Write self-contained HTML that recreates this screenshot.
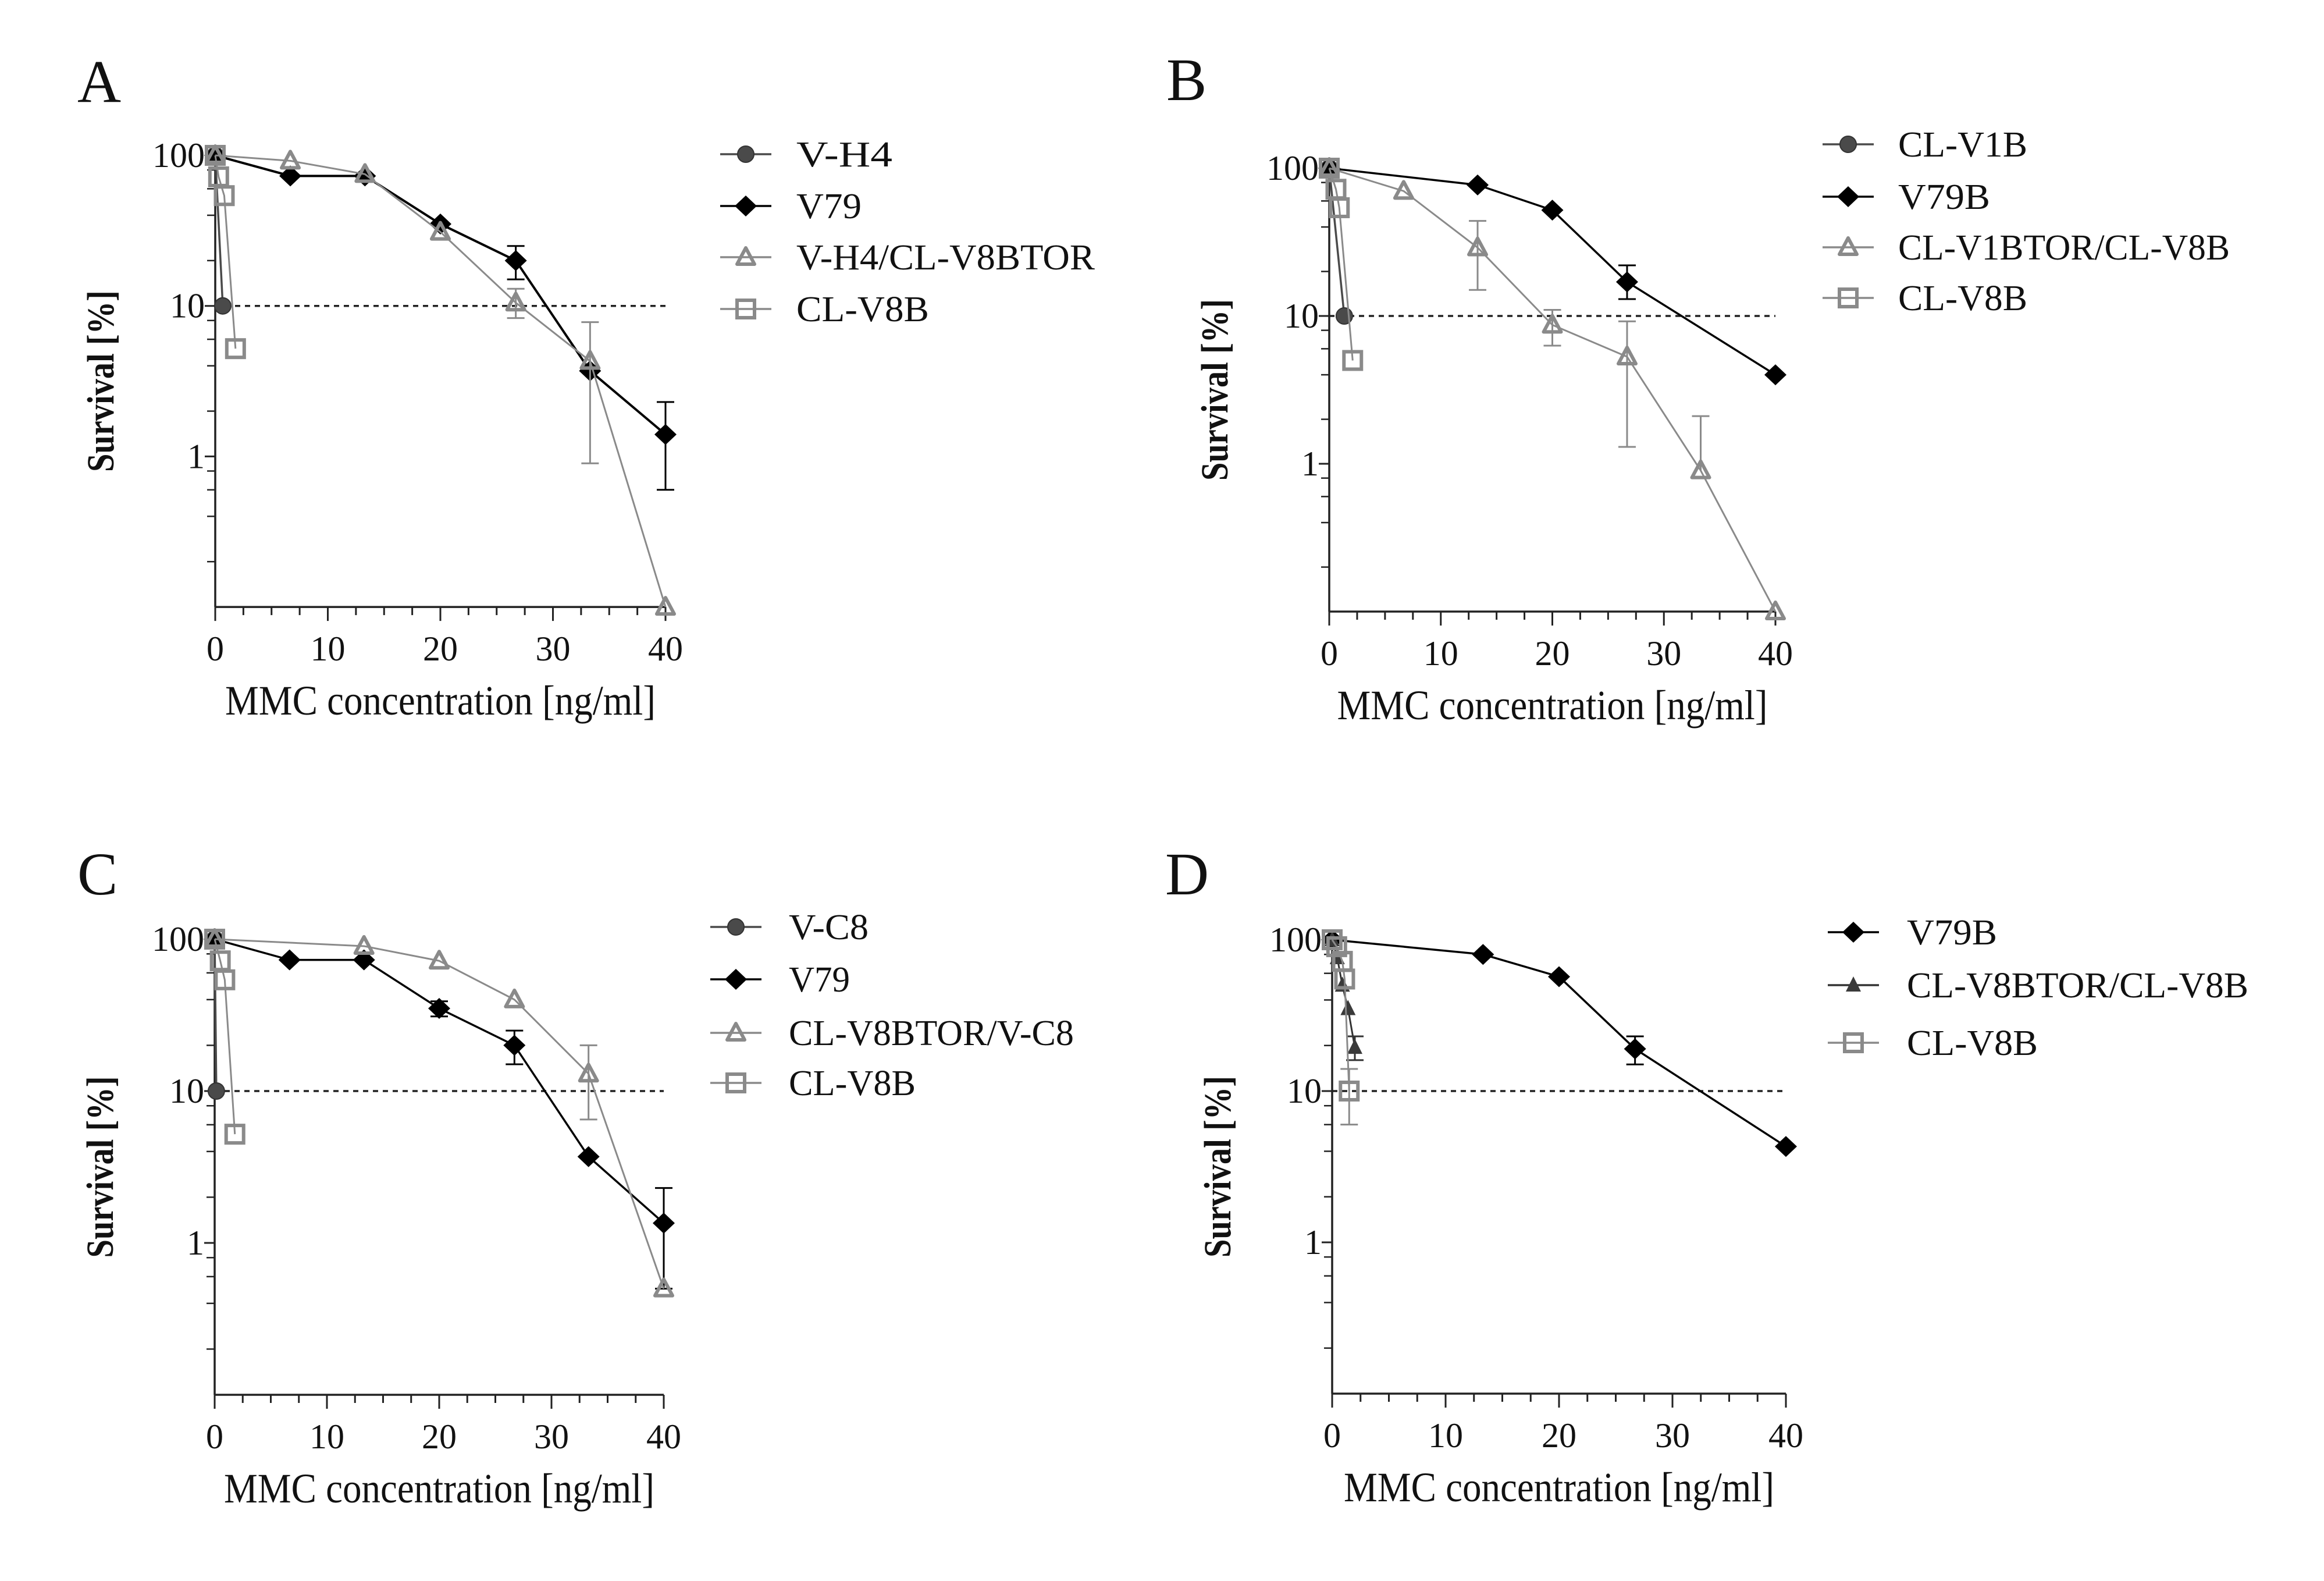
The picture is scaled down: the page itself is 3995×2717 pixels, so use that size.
<!DOCTYPE html>
<html><head><meta charset="utf-8">
<style>
html,body{margin:0;padding:0;background:#fff;}
svg{display:block;}
text{font-family:"Liberation Serif",serif;fill:#111;}
</style></head>
<body>
<svg id="fig" width="3995" height="2717" viewBox="0 0 3995 2717" xmlns="http://www.w3.org/2000/svg">
<rect width="3995" height="2717" fill="#fff"/>
</svg>
<script>
// ---------- Panel A data ----------
const aHexX = [0, 0.67];
const aHexY = [100, 10];
const aV79X = [0, 6.67, 13.3, 20, 26.7, 33.3, 40];
const aV79Y = [100, 73, 73, 35, 20, 3.7, 1.4];
const aV79Lo = [null, null, null, null, 15, null, 0.6];
const aV79Hi = [null, null, null, null, 25, null, 2.3];
const aTriX = [0, 6.67, 13.3, 20, 26.7, 33.3, 40];
const aTriY = [100, 92, 75, 31, 10.5, 4.3, 0.1];
const aTriLo = [null, null, null, null, 8.3, 0.9, null];
const aTriHi = [null, null, null, null, 13, 7.8, null];
const aSqX = [0, 0.3, 0.8, 1.8];
const aSqY = [100, 72, 54, 5.2];
// ---------- Panel B data ----------
const bHexX = [0, 1.35];
const bHexY = [100, 10];
const bV79X = [0, 13.3, 20, 26.7, 40];
const bV79Y = [100, 77, 52, 17, 4];
const bV79Lo = [null, null, null, 13, null];
const bV79Hi = [null, null, null, 22, null];
const bTriX = [0, 6.67, 13.3, 20, 26.7, 33.3, 40];
const bTriY = [100, 70, 29, 8.7, 5.3, 0.9, 0.1];
const bTriLo = [null, null, 15, 6.3, 1.3, null, null];
const bTriHi = [null, null, 44, 11, 9.2, 2.1, null];
const bSqX = [0, 0.6, 0.9, 2.1];
const bSqY = [100, 72, 54, 5];
// ---------- Panel C data ----------
const cHexX = [0, 0.15];
const cHexY = [100, 10];
const cV79X = [0, 6.67, 13.3, 20, 26.7, 33.3, 40];
const cV79Y = [100, 73, 73, 35, 20, 3.7, 1.35];
const cV79Lo = [null, null, null, 31, 15, null, 0.5];
const cV79Hi = [null, null, null, 39, 25, null, 2.3];
const cTriX = [0, 13.3, 20, 26.7, 33.3, 40];
const cTriY = [100, 90, 72, 40, 13, 0.5];
const cTriLo = [null, null, null, null, 6.5, null];
const cTriHi = [null, null, null, null, 20, null];
const cSqX = [0, 0.5, 0.9, 1.8];
const cSqY = [100, 72, 54, 5.2];
// ---------- Panel D data ----------
const dV79X = [0, 13.3, 20, 26.7, 40];
const dV79Y = [100, 80, 57, 19, 4.3];
const dV79Lo = [null, null, null, 15, null];
const dV79Hi = [null, null, null, 23, null];
const dFtX = [0, 0.45, 0.9, 1.4, 2.0];
const dFtY = [100, 76, 50, 35, 19.4];
const dFtLo = [null, null, null, null, 16];
const dFtHi = [null, null, null, null, 23];
const dSqX = [0, 0.4, 0.9, 1.1, 1.5];
const dSqY = [100, 90, 72, 55, 10];
const dSqLo = [null, null, null, null, 6];
const dSqHi = [null, null, null, null, 14];
// tick labels
const xTickVals = [0, 10, 20, 30, 40];
const yTickVals = [100, 10, 1];

const NS = "http://www.w3.org/2000/svg";
const svg = document.getElementById("fig");
const GRAY = "#8a8a8a", DARK = "#4a4a4a", BLACK = "#000";

function mk(tag, attrs, parent) {
  const e = document.createElementNS(NS, tag);
  for (const k in attrs) e.setAttribute(k, attrs[k]);
  (parent || svg).appendChild(e);
  return e;
}

function marker(g, type, cx, cy, color) {
  let e;
  if (type === "hex") {
    e = mk("circle", {cx: cx, cy: cy, r: 14, fill: DARK, stroke: "#333", "stroke-width": 2}, g);
  } else if (type === "diamond") {
    e = mk("polygon", {points: `${cx},${cy-18} ${cx+19},${cy} ${cx},${cy+18} ${cx-19},${cy}`, fill: BLACK}, g);
  } else if (type === "tri") {
    e = mk("polygon", {points: `${cx},${cy-16} ${cx+15},${cy+12} ${cx-15},${cy+12}`, fill: "none", stroke: color, "stroke-width": 6, "stroke-linejoin": "round"}, g);
  } else if (type === "ftri") {
    e = mk("polygon", {points: `${cx},${cy-15} ${cx+13},${cy+11} ${cx-13},${cy+11}`, fill: "#3a3a3a"}, g);
  } else if (type === "sq") {
    e = mk("rect", {x: cx-15, y: cy-15, width: 30, height: 30, fill: "none", stroke: color, "stroke-width": 6}, g);
  }
  
  
  return e;
}

function drawPanel(p) {
  const g = mk("g", {});
  
  
  const sx = v => p.x0 + (p.x40 - p.x0) * v / 40;
  const sy = v => p.y100 + (2 - Math.log10(v)) * p.dec;
  const yBot = p.y100 + 3 * p.dec;

  const lt = mk("text", {x: p.lx, y: p.ly, "font-size": 104}, g);
  lt.textContent = p.letter;
  
  

  // axes
  const ya = mk("line", {x1: p.x0, y1: p.y100 - 2, x2: p.x0, y2: yBot, stroke: "#222", "stroke-width": 3.5}, g);
  
  
  const xa = mk("line", {x1: p.x0, y1: yBot, x2: p.x40, y2: yBot, stroke: "#222", "stroke-width": 3.5}, g);
  
  
  for (let i = 0; i <= 16; i++) {
    const v = i * 2.5, major = i % 4 === 0;
    const t = mk("line", {x1: sx(v), y1: yBot, x2: sx(v), y2: yBot + (major ? 24 : 14), stroke: "#222", "stroke-width": 3}, g);
    
    
  }
  xTickVals.forEach(v => {
    const t = mk("text", {x: sx(v), y: yBot + 92, "font-size": 60, "text-anchor": "middle"}, g);
    t.textContent = v;
    
    
  });
  yTickVals.forEach(v => {
    const t = mk("line", {x1: p.x0 - 18, y1: sy(v), x2: p.x0, y2: sy(v), stroke: "#222", "stroke-width": 3}, g);
    
    
    const l = mk("text", {x: p.x0 - 18, y: sy(v) + 20, "font-size": 60, "text-anchor": "end"}, g);
    l.textContent = v;
    
    
  });
  [100, 10, 1].forEach(base => {
    [0.8, 0.6, 0.4, 0.2].forEach(f => {
      const v = base * f;
      const t = mk("line", {x1: p.x0 - 14, y1: sy(v), x2: p.x0, y2: sy(v), stroke: "#222", "stroke-width": 2.5}, g);
      
      
    });
  });
  const xt = mk("text", {x: (p.x0 + p.x40) / 2, y: yBot + 185, "font-size": 72, "text-anchor": "middle", textLength: 740, lengthAdjust: "spacingAndGlyphs"}, g);
  xt.textContent = "MMC concentration [ng/ml]";
  
  
  const cy = (p.y100 + yBot) / 2;
  const yt = mk("text", {x: 0, y: 0, "font-size": 66, "font-weight": "bold", "text-anchor": "middle", textLength: 312, lengthAdjust: "spacingAndGlyphs", transform: `translate(${p.x0 - 175},${cy}) rotate(-90)`}, g);
  yt.textContent = "Survival [%]";
  
  

  // dotted 10% line
  const dl = mk("line", {x1: p.x0, y1: sy(10), x2: p.x40, y2: sy(10), stroke: "#222", "stroke-width": 3.5, "stroke-dasharray": "9 8"}, g);
  
  

  // series
  p.series.forEach(s => {
    const sg = mk("g", {}, g);
    
    
    const pts = s.x.map((v, i) => `${sx(v)},${sy(s.y[i])}`).join(" ");
    const pl = mk("polyline", {points: pts, fill: "none", stroke: s.lc, "stroke-width": s.lw}, sg);
    
    
    if (s.lo) s.x.forEach((v, i) => {
      const X = sx(v);
      [[s.lo[i]], [s.hi[i]]].forEach(([e]) => {
        if (e == null) return;
        const b = mk("line", {x1: X, y1: sy(s.y[i]), x2: X, y2: sy(e), stroke: s.lc, "stroke-width": 3}, sg);
        
        
        const c = mk("line", {x1: X - 15, y1: sy(e), x2: X + 15, y2: sy(e), stroke: s.lc, "stroke-width": 3}, sg);
        
        
      });
    });
    s.x.forEach((v, i) => marker(sg, s.m, sx(v), sy(s.y[i]), s.mc));
  });

  // legend
  p.series.forEach((s, i) => {
    const lg = mk("g", {}, g);
    
    
    const y = p.legY[i];
    const l = mk("line", {x1: p.legX - 44, y1: y, x2: p.legX + 44, y2: y, stroke: s.lc, "stroke-width": 3.5}, lg);
    
    
    marker(lg, s.m, p.legX, y, s.mc);
    const t = mk("text", {x: p.legTX, y: y + 21, "font-size": 62, textLength: s.tl, lengthAdjust: "spacingAndGlyphs"}, lg);
    t.textContent = s.name;
    
    
  });
}

drawPanel({letter: "A", lx: 133, ly: 175, x0: 370, x40: 1144, y100: 267, dec: 258.7,
  legX: 1282, legTX: 1369, legY: [265, 354, 442, 531],
  series: [
    {name: "V-H4", x: aHexX, y: aHexY, m: "hex", lc: DARK, lw: 3.5, mc: DARK, tl: 165},
    {name: "V79", x: aV79X, y: aV79Y, lo: aV79Lo, hi: aV79Hi, m: "diamond", lc: BLACK, lw: 4, mc: BLACK, tl: 112},
    {name: "V-H4/CL-V8BTOR", x: aTriX, y: aTriY, lo: aTriLo, hi: aTriHi, m: "tri", lc: GRAY, lw: 3, mc: GRAY, tl: 513},
    {name: "CL-V8B", x: aSqX, y: aSqY, m: "sq", lc: GRAY, lw: 3, mc: GRAY, tl: 228}
  ]});
drawPanel({letter: "B", lx: 2005, ly: 172, x0: 2285, x40: 3052, y100: 289, dec: 254,
  legX: 3177, legTX: 3263, legY: [248, 338, 425, 512],
  series: [
    {name: "CL-V1B", x: bHexX, y: bHexY, m: "hex", lc: DARK, lw: 3.5, mc: DARK, tl: 222},
    {name: "V79B", x: bV79X, y: bV79Y, lo: bV79Lo, hi: bV79Hi, m: "diamond", lc: BLACK, lw: 3.5, mc: BLACK, tl: 158},
    {name: "CL-V1BTOR/CL-V8B", x: bTriX, y: bTriY, lo: bTriLo, hi: bTriHi, m: "tri", lc: GRAY, lw: 3, mc: GRAY, tl: 570},
    {name: "CL-V8B", x: bSqX, y: bSqY, m: "sq", lc: GRAY, lw: 3, mc: GRAY, tl: 222}
  ]});
drawPanel({letter: "C", lx: 133, ly: 1537, x0: 369, x40: 1141, y100: 1614, dec: 261,
  legX: 1265, legTX: 1356, legY: [1593, 1683, 1775, 1861],
  series: [
    {name: "V-C8", x: cHexX, y: cHexY, m: "hex", lc: DARK, lw: 3.5, mc: DARK, tl: 137},
    {name: "V79", x: cV79X, y: cV79Y, lo: cV79Lo, hi: cV79Hi, m: "diamond", lc: BLACK, lw: 3.5, mc: BLACK, tl: 105},
    {name: "CL-V8BTOR/V-C8", x: cTriX, y: cTriY, lo: cTriLo, hi: cTriHi, m: "tri", lc: GRAY, lw: 3, mc: GRAY, tl: 490},
    {name: "CL-V8B", x: cSqX, y: cSqY, m: "sq", lc: GRAY, lw: 3, mc: GRAY, tl: 218}
  ]});
drawPanel({letter: "D", lx: 2003, ly: 1537, x0: 2290, x40: 3070, y100: 1615, dec: 260,
  legX: 3186, legTX: 3278, legY: [1602, 1693, 1792],
  series: [
    {name: "V79B", x: dV79X, y: dV79Y, lo: dV79Lo, hi: dV79Hi, m: "diamond", lc: BLACK, lw: 3.5, mc: BLACK, tl: 155},
    {name: "CL-V8BTOR/CL-V8B", x: dFtX, y: dFtY, lo: dFtLo, hi: dFtHi, m: "ftri", lc: "#333", lw: 3, mc: "#333", tl: 587},
    {name: "CL-V8B", x: dSqX, y: dSqY, lo: dSqLo, hi: dSqHi, m: "sq", lc: GRAY, lw: 3, mc: GRAY, tl: 225}
  ]});
</script>
</body></html>
